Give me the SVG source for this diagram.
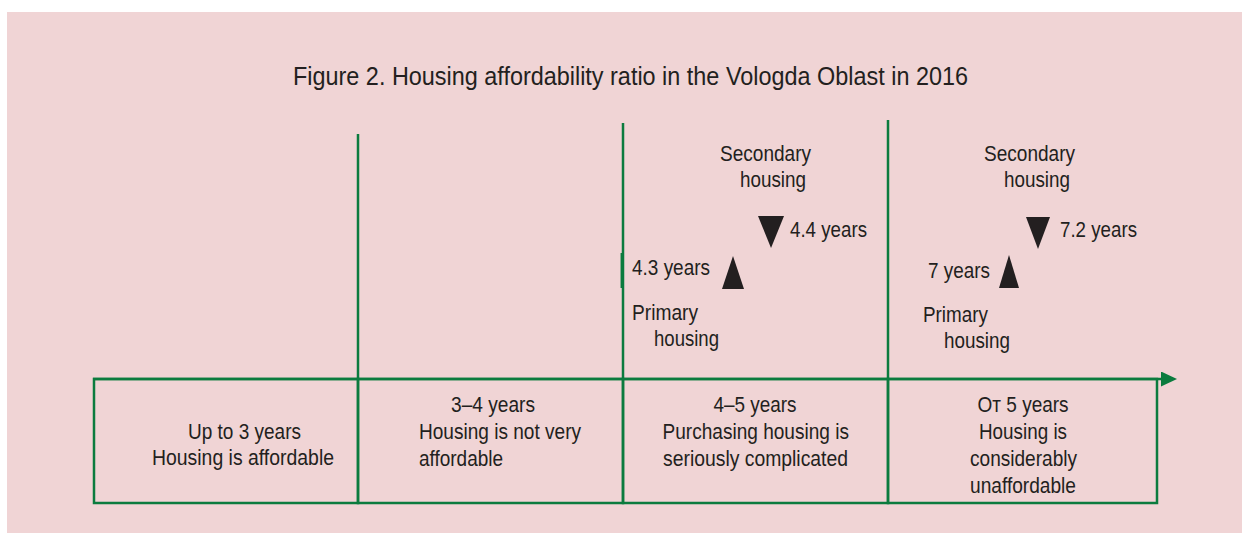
<svg xmlns="http://www.w3.org/2000/svg" width="1242" height="533" viewBox="0 0 1242 533">
<style>
  .bg { fill: #f0d4d5; }
  .ln { stroke: #0b7b3e; stroke-width: 2.5; fill: none; }
  .cell { stroke: #0b7b3e; stroke-width: 2.5; fill: none; }
  text { font-family: "Liberation Sans", Arial, sans-serif; fill: #231f20; }
  .t { font-size: 22px; }
  .title { font-size: 26px; }
  .tri { fill: #231f20; }
</style>
<defs>
  <marker id="arrow" markerUnits="userSpaceOnUse" markerWidth="17" markerHeight="16" refX="1" refY="7.5" orient="auto">
    <polygon points="0,0 16,7.5 0,15" fill="#0b7b3e"/>
  </marker>
</defs>
<rect class="bg" x="7" y="12" width="1235" height="521"/>
<text class="title" x="293" y="85" textLength="675" lengthAdjust="spacingAndGlyphs">Figure 2. Housing affordability ratio in the Vologda Oblast in 2016</text>

<g id="connectors">
  <line class="ln" x1="93" y1="379" x2="1162" y2="379" marker-end="url(#arrow)"/>
  <line class="ln" x1="358" y1="134" x2="358" y2="379"/>
  <line class="ln" x1="623" y1="123" x2="623" y2="379"/>
  <line class="ln" x1="888" y1="120" x2="888" y2="379"/>
  <line class="ln" x1="621.8" y1="253" x2="621.8" y2="288"/>
</g>

<g id="cell-1">
  <rect class="cell" x="94" y="379" width="264" height="124"/>
  <text class="t" x="188" y="439" textLength="113" lengthAdjust="spacingAndGlyphs">Up to 3 years</text>
  <text class="t" x="152" y="465" textLength="182" lengthAdjust="spacingAndGlyphs">Housing is affordable</text>
</g>
<g id="cell-2">
  <rect class="cell" x="358" y="379" width="265" height="124"/>
  <text class="t" x="451" y="412" textLength="84" lengthAdjust="spacingAndGlyphs">3–4 years</text>
  <text class="t" x="419" y="439" textLength="162" lengthAdjust="spacingAndGlyphs">Housing is not very</text>
  <text class="t" x="419" y="466" textLength="84" lengthAdjust="spacingAndGlyphs">affordable</text>
</g>
<g id="cell-3">
  <rect class="cell" x="623" y="379" width="265" height="124"/>
  <text class="t" x="713.5" y="412" textLength="83" lengthAdjust="spacingAndGlyphs">4–5 years</text>
  <text class="t" x="662.5" y="439" textLength="186.5" lengthAdjust="spacingAndGlyphs">Purchasing housing is</text>
  <text class="t" x="663" y="466" textLength="185" lengthAdjust="spacingAndGlyphs">seriously complicated</text>
</g>
<g id="cell-4">
  <rect class="cell" x="888" y="379" width="269" height="124"/>
  <text class="t" x="977.6" y="412" textLength="91" lengthAdjust="spacingAndGlyphs">От 5 years</text>
  <text class="t" x="979" y="439" textLength="88" lengthAdjust="spacingAndGlyphs">Housing is</text>
  <text class="t" x="970" y="466" textLength="107" lengthAdjust="spacingAndGlyphs">considerably</text>
  <text class="t" x="970" y="493" textLength="106" lengthAdjust="spacingAndGlyphs">unaffordable</text>
</g>

<g id="marker-3">
  <text class="t" x="720" y="161" textLength="91" lengthAdjust="spacingAndGlyphs">Secondary</text>
  <text class="t" x="740" y="187" textLength="66" lengthAdjust="spacingAndGlyphs">housing</text>
  <polygon class="tri" points="758,216 784,216 771,248"/>
  <text class="t" x="790" y="237" textLength="77" lengthAdjust="spacingAndGlyphs">4.4 years</text>
  <text class="t" x="632" y="275" textLength="78" lengthAdjust="spacingAndGlyphs">4.3 years</text>
  <polygon class="tri" points="722,289 744,289 733,256"/>
  <text class="t" x="632" y="320" textLength="66" lengthAdjust="spacingAndGlyphs">Primary</text>
  <text class="t" x="654" y="346" textLength="65" lengthAdjust="spacingAndGlyphs">housing</text>
</g>
<g id="marker-4">
  <text class="t" x="984" y="161" textLength="91" lengthAdjust="spacingAndGlyphs">Secondary</text>
  <text class="t" x="1004" y="187" textLength="66" lengthAdjust="spacingAndGlyphs">housing</text>
  <polygon class="tri" points="1026,217 1050,217 1038,249"/>
  <text class="t" x="1060" y="237" textLength="77" lengthAdjust="spacingAndGlyphs">7.2 years</text>
  <text class="t" x="928" y="278" textLength="62" lengthAdjust="spacingAndGlyphs">7 years</text>
  <polygon class="tri" points="999,288 1019,288 1009,255"/>
  <text class="t" x="923" y="322" textLength="65" lengthAdjust="spacingAndGlyphs">Primary</text>
  <text class="t" x="944" y="348" textLength="66" lengthAdjust="spacingAndGlyphs">housing</text>
</g>
</svg>
